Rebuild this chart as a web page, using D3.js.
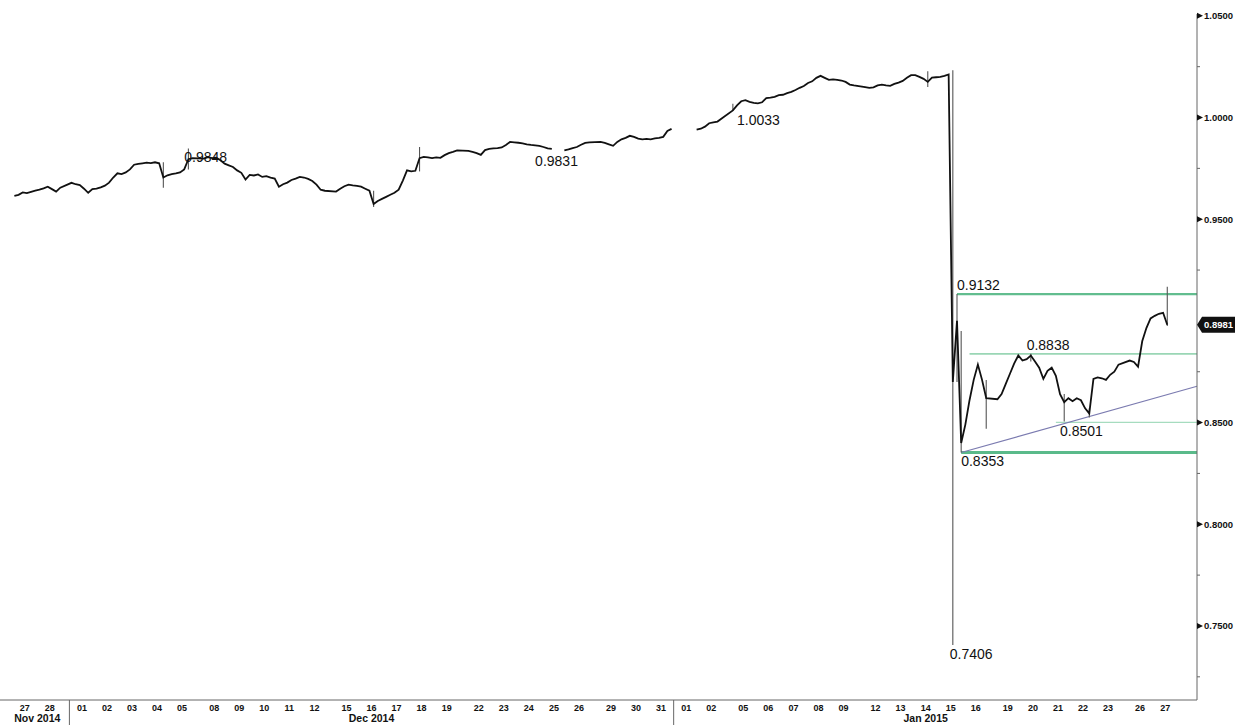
<!DOCTYPE html>
<html>
<head>
<meta charset="utf-8">
<script src="https://cdn.jsdelivr.net/npm/d3@7"></script>
<style>
  body { margin: 0; background: #fff; }
  svg { display: block; }
  text { font-family: "Liberation Sans", Arial, sans-serif; }
</style>
</head>
<body>
<svg id="chart" width="1236" height="725"></svg>
<script>
// closes of 4-hour bars, one row per trading day (6 bars a day)
const novCloses = [
  [0.9615, 0.9620, 0.9632, 0.9628, 0.9634, 0.9640],
  [0.9645, 0.9652, 0.9660, 0.9648, 0.9636, 0.9655]
];
const decCloses = [
  [0.9679, 0.9672, 0.9668, 0.9650, 0.9630, 0.9648],
  [0.9650, 0.9657, 0.9665, 0.9680, 0.9705, 0.9726],
  [0.9722, 0.9730, 0.9745, 0.9768, 0.9772, 0.9775],
  [0.9778, 0.9776, 0.9780, 0.9775, 0.9705, 0.9716],
  [0.9722, 0.9725, 0.9730, 0.9745, 0.9795, 0.9800],
  [0.9798, 0.9805, 0.9800, 0.9802, 0.9790, 0.9773],
  [0.9765, 0.9757, 0.9740, 0.9728, 0.9695, 0.9718],
  [0.9715, 0.9720, 0.9708, 0.9712, 0.9705, 0.9700],
  [0.9660, 0.9672, 0.9680, 0.9693, 0.9700, 0.9708],
  [0.9705, 0.9698, 0.9688, 0.9670, 0.9645, 0.9640],
  [0.9636, 0.9650, 0.9662, 0.9670, 0.9666, 0.9664],
  [0.9660, 0.9650, 0.9640, 0.9575, 0.9590, 0.9600],
  [0.9610, 0.9620, 0.9630, 0.9645, 0.9690, 0.9740],
  [0.9735, 0.9738, 0.9800, 0.9806, 0.9804, 0.9800],
  [0.9804, 0.9802, 0.9815, 0.9825, 0.9831, 0.9838],
  [0.9836, 0.9831, 0.9825, 0.9816, 0.9840, 0.9846],
  [0.9848, 0.9850, 0.9853, 0.9865, 0.9880, 0.9878],
  [0.9876, 0.9873, 0.9868, 0.9865, 0.9863, 0.9861],
  [0.9855, 0.9848, 0.9846, null, null, 0.9838],
  [0.9843, 0.9850, 0.9855, 0.9866, 0.9875, 0.9878],
  [0.9880, 0.9875, 0.9868, 0.9861, 0.9880, 0.9893],
  [0.9900, 0.9910, 0.9905, 0.9896, 0.9893, 0.9895],
  [0.9893, 0.9897, 0.9900, 0.9905, 0.9934, 0.9944]
];
const janCloses = [
  [null, null, null, null, null, 0.9940],
  [0.9945, 0.9955, 0.9972, 0.9976, 0.9980, 0.9995],
  [1.0035, 1.0060, 1.0080, 1.0085, 1.0077, 1.0072],
  [1.0070, 1.0075, 1.0095, 1.0098, 1.0102, 1.0110],
  [1.0112, 1.0120, 1.0126, 1.0135, 1.0146, 1.0155],
  [1.0170, 1.0178, 1.0195, 1.0205, 1.0195, 1.0185],
  [1.0188, 1.0185, 1.0182, 1.0175, 1.0162, 1.0158],
  [1.0150, 1.0146, 1.0148, 1.0158, 1.0162, 1.0158],
  [1.0156, 1.0165, 1.0172, 1.0180, 1.0195, 1.0208],
  [1.0208, 1.0200, 1.0190, 1.0175, 1.0196, 1.0198],
  [1.0200, 1.0205, 1.0212, 0.8700, 0.9000, 0.8400],
  [0.8490, 0.8610, 0.8710, 0.8785, 0.8710, 0.8620],
  [0.8615, 0.8640, 0.8690, 0.8740, 0.8790, 0.8830],
  [0.8805, 0.8812, 0.8830, 0.8800, 0.8770, 0.8715],
  [0.8755, 0.8770, 0.8730, 0.8640, 0.8600, 0.8620],
  [0.8605, 0.8620, 0.8610, 0.8570, 0.8545, 0.8715],
  [0.8722, 0.8718, 0.8710, 0.8735, 0.8750, 0.8785],
  [0.8805, 0.8798, 0.8775, 0.8900, 0.8965, 0.9012],
  [0.9025, 0.9035, 0.9040, 0.8981]
];

// bar extremes that stick out of the close line
const wicks = [
  { day: "2014-12-04", slot: 4, hi: 0.9780, lo: 0.9655 },
  { day: "2014-12-05", slot: 4, hi: 0.9848, lo: 0.9745 },
  { day: "2014-12-16", slot: 3, hi: 0.9640, lo: 0.9560 },
  { day: "2014-12-18", slot: 2, hi: 0.9855, lo: 0.9735 },
  { day: "2015-01-05", slot: 0, hi: 1.0068, lo: 1.0033 },
  { day: "2015-01-14", slot: 3, hi: 1.0228, lo: 1.0150 },
  { day: "2015-01-15", slot: 3, hi: 1.0232, lo: 0.7406 },
  { day: "2015-01-15", slot: 4, hi: 0.9132, lo: 0.8700 },
  { day: "2015-01-15", slot: 5, hi: 0.8950, lo: 0.8353 },
  { day: "2015-01-16", slot: 5, hi: 0.8710, lo: 0.8470 },
  { day: "2015-01-20", slot: 2, hi: 0.8838, lo: 0.8800 },
  { day: "2015-01-21", slot: 4, hi: 0.8640, lo: 0.8505 },
  { day: "2015-01-22", slot: 4, hi: 0.8570, lo: 0.8525 },
  { day: "2015-01-27", slot: 3, hi: 0.9168, lo: 0.8975 }
];

const levels = [
  { value: 0.9132, day: "2015-01-15", slot: 4, color: "#62bd8f", width: 2.2 },
  { value: 0.8838, day: "2015-01-16", slot: 1, color: "#9ad6b5", width: 1.8 },
  { value: 0.8501, day: "2015-01-21", slot: 2, color: "#a6dcbf", width: 1.4 },
  { value: 0.8353, day: "2015-01-15", slot: 5, color: "#5aba8a", width: 2.8 }
];

const trendAnchors = [
  { day: "2015-01-15", slot: 5, value: 0.8353 },
  { day: "2015-01-22", slot: 4, value: 0.8530 }
];

const notes = [
  { text: "0.9848", day: "2014-12-05", slot: 3, value: 0.9848, pos: "below" },
  { text: "0.9831", day: "2014-12-24", slot: 4, value: 0.9831, pos: "below" },
  { text: "1.0033", day: "2015-01-05", slot: 1, value: 1.0033, pos: "below" },
  { text: "0.9132", day: "2015-01-15", slot: 4, value: 0.9132, pos: "above" },
  { text: "0.8838", day: "2015-01-20", slot: 1, value: 0.8838, pos: "above" },
  { text: "0.8501", day: "2015-01-21", slot: 3, value: 0.8501, pos: "below" },
  { text: "0.8353", day: "2015-01-15", slot: 5, value: 0.8353, pos: "below" },
  { text: "0.7406", day: "2015-01-15", slot: 3, value: 0.7406, pos: "below", dx: -3 }
];

// 0.9000 sits under the last-price tag, so it has no label
const yMajor = [1.05, 1.0, 0.95, 0.85, 0.80, 0.75];
const yMinor = [1.025, 0.975, 0.925, 0.875, 0.825, 0.775, 0.725];
const lastPrice = 0.8981;

const slotsPerDay = 6, weekendGap = 0.28;
const plotRight = 1197, plotBottom = 700;

const parse = d3.timeParse("%Y-%m-%d");
const days = d3.timeDay.range(new Date(2014, 10, 27), new Date(2015, 0, 28))
  .filter(d => d.getDay() !== 0 && d.getDay() !== 6);
const closes = [...novCloses, ...decCloses, ...janCloses];

// day start in "session units", weekends squeezed to a short gap
const dayStart = [];
let u = 0;
days.forEach((d, i) => {
  if (i > 0 && d.getDay() === 1) u += weekendGap;
  dayStart.push(u);
  u += 1;
});
const dayIndex = s => days.findIndex(d => +d === +parse(s));
const slotU = (i, s) => dayStart[i] + (s + 0.5) / slotsPerDay;

const points = [];
closes.forEach((row, i) => row.forEach((v, s) => points.push({ u: slotU(i, s), v })));

const x = d3.scaleLinear().domain([-0.49, 47.29]).range([0, plotRight]);
const y = d3.scaleLinear().domain([0.7136, 1.0509]).range([plotBottom, 14]);

const svg = d3.select("#chart");

// level lines
svg.append("g").selectAll("line").data(levels).join("line")
  .attr("x1", d => x(slotU(dayIndex(d.day), d.slot)))
  .attr("x2", plotRight)
  .attr("y1", d => y(d.value)).attr("y2", d => y(d.value))
  .attr("stroke", d => d.color).attr("stroke-width", d => d.width);

// trend line, extended to the axis
const t0 = trendAnchors[0], t1 = trendAnchors[1];
const tx0 = x(slotU(dayIndex(t0.day), t0.slot)), tx1 = x(slotU(dayIndex(t1.day), t1.slot));
const ty0 = y(t0.value), ty1 = y(t1.value);
svg.append("line")
  .attr("x1", tx0).attr("y1", ty0)
  .attr("x2", plotRight).attr("y2", ty0 + (ty1 - ty0) * (plotRight - tx0) / (tx1 - tx0))
  .attr("stroke", "#7b7bb0").attr("stroke-width", 1.2);

// wicks
svg.append("g").selectAll("line").data(wicks).join("line")
  .attr("x1", d => x(slotU(dayIndex(d.day), d.slot)))
  .attr("x2", d => x(slotU(dayIndex(d.day), d.slot)))
  .attr("y1", d => y(d.hi)).attr("y2", d => y(d.lo))
  .attr("stroke", "#555").attr("stroke-width", 1.1);

// price line
svg.append("path").datum(points)
  .attr("fill", "none").attr("stroke", "#111").attr("stroke-width", 1.8)
  .attr("d", d3.line().defined(d => d.v != null).x(d => x(d.u)).y(d => y(d.v)));

// value notes
svg.append("g").selectAll("text").data(notes).join("text")
  .attr("x", d => x(slotU(dayIndex(d.day), d.slot)) + (d.dx || 0))
  .attr("y", d => d.pos === "above" ? y(d.value) - 4 : y(d.value) + 14)
  .attr("font-size", 14).attr("fill", "#111")
  .text(d => d.text);

// right axis
svg.append("line").attr("x1", plotRight).attr("x2", plotRight).attr("y1", 14).attr("y2", plotBottom)
  .attr("stroke", "#666").attr("stroke-width", 1);
svg.append("g").selectAll("path").data(yMajor).join("path")
  .attr("d", d => `M${plotRight},${y(d) - 3}L${plotRight + 6},${y(d)}L${plotRight},${y(d) + 3}Z`)
  .attr("fill", "#111");
svg.append("g").selectAll("line").data(yMinor).join("line")
  .attr("x1", plotRight).attr("x2", plotRight + 3)
  .attr("y1", d => y(d)).attr("y2", d => y(d))
  .attr("stroke", "#666");
svg.append("g").selectAll("text").data(yMajor).join("text")
  .attr("x", plotRight + 7).attr("y", d => y(d)).attr("dy", "0.35em")
  .attr("font-size", 9.5).attr("font-weight", "bold").attr("fill", "#111")
  .text(d3.format(".4f"));

// last price tag
const ly = y(lastPrice);
svg.append("path")
  .attr("d", `M${plotRight},${ly}L${plotRight + 5},${ly - 8}H1235V${ly + 8}H${plotRight + 5}Z`)
  .attr("fill", "#111");
svg.append("text").attr("x", plotRight + 7).attr("y", ly).attr("dy", "0.35em")
  .attr("font-size", 9.5).attr("font-weight", "bold").attr("fill", "#fff")
  .text(d3.format(".4f")(lastPrice));

// bottom axis
svg.append("line").attr("x1", 0).attr("x2", plotRight).attr("y1", plotBottom).attr("y2", plotBottom)
  .attr("stroke", "#666");
svg.append("g").selectAll("text").data(days).join("text")
  .attr("x", (d, i) => Math.max(18, x(dayStart[i] + 0.5))).attr("y", 711)
  .attr("text-anchor", "middle").attr("font-size", 9).attr("font-weight", "bold").attr("fill", "#111")
  .text(d3.timeFormat("%d"));

const months = d3.groups(days.map((d, i) => ({ d, i })), e => d3.timeFormat("%b %Y")(e.d));
months.forEach(([label, list], k) => {
  const first = list[0].i, last = list[list.length - 1].i;
  const x0 = Math.max(0, x(dayStart[first]));
  const x1 = x(dayStart[last] + 1);
  if (k > 0) {
    svg.append("line").attr("x1", x0).attr("x2", x0).attr("y1", plotBottom).attr("y2", 725)
      .attr("stroke", "#666");
  }
  svg.append("text").attr("x", (x0 + x1) / 2).attr("y", 722)
    .attr("text-anchor", "middle").attr("font-size", 10.5).attr("font-weight", "bold").attr("fill", "#111")
    .text(label);
});
</script>
</body>
</html>
